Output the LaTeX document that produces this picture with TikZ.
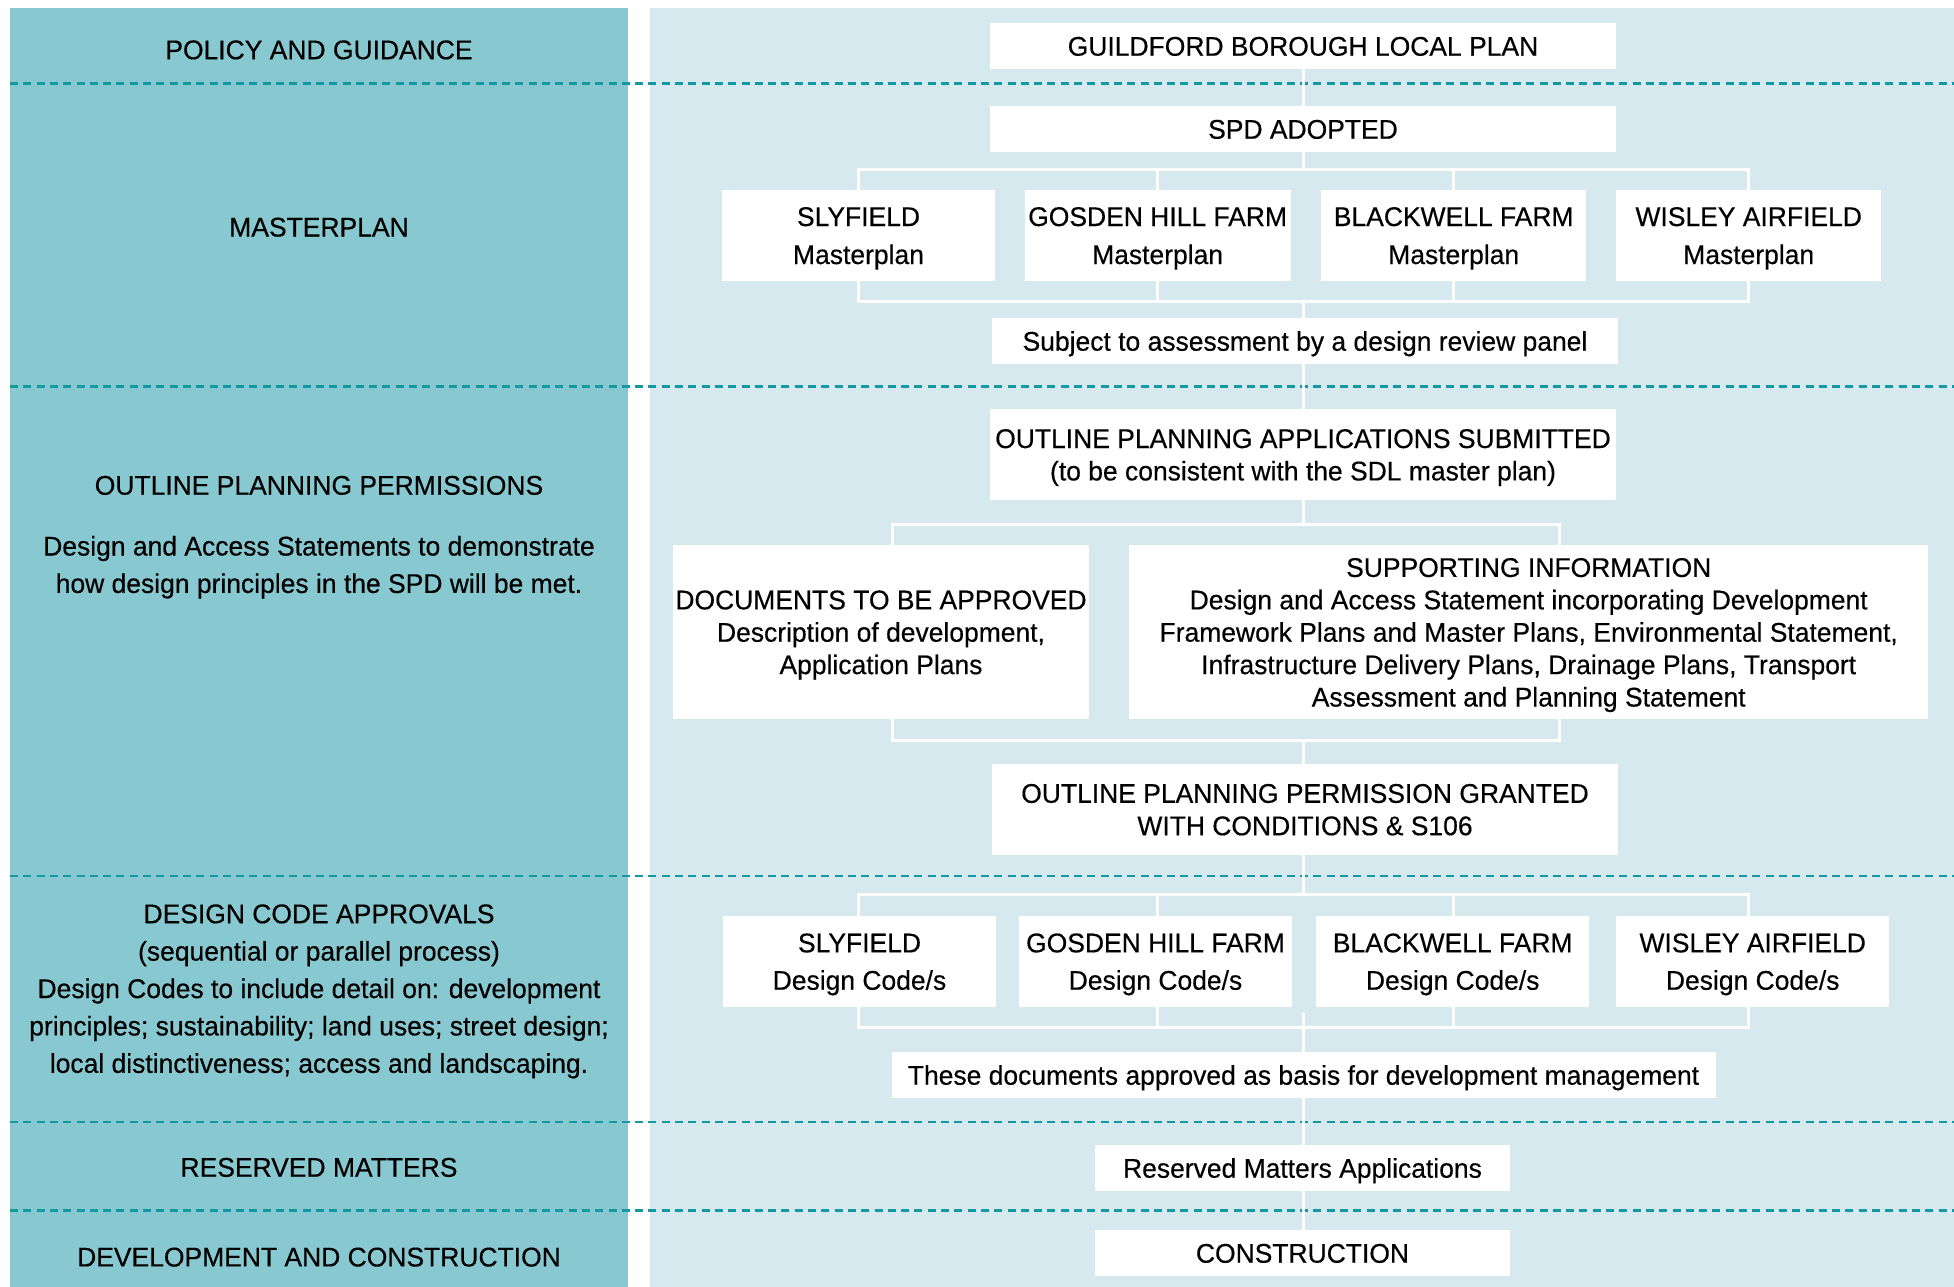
\documentclass[tikz,border=0pt]{standalone}
\usepackage{fontspec}
\setmainfont{Liberation Sans}[FakeStretch=0.98,FakeBold=0.4]
\definecolor{leftbg}{HTML}{88C9D1}
\definecolor{rightbg}{HTML}{D5E9EE}
\definecolor{dashc}{HTML}{1299A2}
\begin{document}
\begin{tikzpicture}[x=1pt,y=-1pt,
  box/.style={fill=white, inner sep=0pt, align=center, font=\fontsize{27}{32.4}\selectfont, text height=19.4pt, text depth=0pt},
  twobox/.style={box, text height=51.8pt},
  mbox/.style={box, font=\fontsize{27}{38}\selectfont, text height=57.4pt, minimum height=90.7pt},
  dbox/.style={box, font=\fontsize{27}{37.4}\selectfont, text height=56.8pt, minimum height=90.7pt},
  lbl/.style={inner sep=0pt, align=center, font=\fontsize{27}{37.4}\selectfont, text height=19.4pt, text depth=0pt},
  conn/.style={draw=white, line width=3pt, line cap=rect},
  sep/.style={draw=dashc, line width=2.9pt, dash pattern=on 8pt off 5.3pt}]
\fill[white] (0,0) rectangle (1954,1287);
\useasboundingbox (0,0) rectangle (1954,1287);
\fill[leftbg] (10,8) rectangle (628,1287);
\fill[rightbg] (650,8) rectangle (1954,1287);
\foreach \yy in {83.7,386.5,876,1122,1210.7} \draw[sep] (10,\yy) -- (1954,\yy);

% left labels
\node[lbl] (l1) at (319,49.5) {POLICY AND GUIDANCE};
\node[lbl] (l2) at (319,226.8) {MASTERPLAN};
\node[lbl] (l3) at (319,485) {OUTLINE PLANNING PERMISSIONS};
\node[lbl, text height=56.8pt] (l3b) at (319,564.5) {Design and Access Statements to demonstrate\\how design principles in the SPD will be met.};
\node[lbl, text height=169pt] (l4) at (319,988.3) {DESIGN CODE APPROVALS\\(sequential or parallel process)\\Design Codes to include detail on: development\\principles; sustainability; land uses; street design;\\local distinctiveness; access and landscaping.};
\node[lbl] (l5) at (319,1167) {RESERVED MATTERS};
\node[lbl] (l6) at (319,1256.7) {DEVELOPMENT AND CONSTRUCTION};

% boxes
\node[box, minimum width=626.5pt, minimum height=46pt] (glp) at (1303,46) {GUILDFORD BOROUGH LOCAL PLAN};
\node[box, minimum width=626.5pt, minimum height=46pt] (spd) at (1303,129) {SPD ADOPTED};
\node[mbox, minimum width=273pt] (m1) at (858.5,235.3) {SLYFIELD\\Masterplan};
\node[mbox, minimum width=265.8pt] (m2) at (1157.6,235.3) {GOSDEN HILL FARM\\Masterplan};
\node[mbox, minimum width=264.5pt] (m3) at (1453.7,235.3) {BLACKWELL FARM\\Masterplan};
\node[mbox, minimum width=264.5pt] (m4) at (1748.7,235.3) {WISLEY AIRFIELD\\Masterplan};
\node[box, minimum width=626pt, minimum height=46pt] (subj) at (1305,341) {Subject to assessment by a design review panel};
\node[twobox, minimum width=626.5pt, minimum height=91pt] (oapp) at (1303,454.5) {OUTLINE PLANNING APPLICATIONS SUBMITTED\\(to be consistent with the SDL master plan)};
\node[box, text height=84.2pt, minimum width=416pt, minimum height=174pt] (docs) at (881,632) {DOCUMENTS TO BE APPROVED\\Description of development,\\Application Plans};
\node[box, text height=149pt, minimum width=798.5pt, minimum height=174pt] (supp) at (1528.7,632) {SUPPORTING INFORMATION\\Design and Access Statement incorporating Development\\Framework Plans and Master Plans, Environmental Statement,\\Infrastructure Delivery Plans, Drainage Plans, Transport\\Assessment and Planning Statement};
\node[twobox, minimum width=626pt, minimum height=91pt] (grant) at (1305,809.3) {OUTLINE PLANNING PERMISSION GRANTED\\WITH CONDITIONS \& S106};
\node[dbox, minimum width=273pt] (d1) at (859.5,961.3) {SLYFIELD\\Design Code/s};
\node[dbox, minimum width=273pt] (d2) at (1155.5,961.3) {GOSDEN HILL FARM\\Design Code/s};
\node[dbox, minimum width=272.5pt] (d3) at (1452.7,961.3) {BLACKWELL FARM\\Design Code/s};
\node[dbox, minimum width=272.5pt] (d4) at (1752.7,961.3) {WISLEY AIRFIELD\\Design Code/s};
\node[box, minimum width=824pt, minimum height=46pt] (basis) at (1303.5,1075) {These documents approved as basis for development management};
\node[box, minimum width=415pt, minimum height=46pt] (rm) at (1302.5,1168) {Reserved Matters Applications};
\node[box, minimum width=415pt, minimum height=46pt] (cons) at (1302.5,1253) {CONSTRUCTION};

% bus coordinates
\coordinate (cx) at (1303,0);
\coordinate (b1) at (0,169);
\coordinate (b2) at (0,301.7);
\coordinate (b3) at (0,524);
\coordinate (b4) at (0,740);
\coordinate (b5) at (0,894.3);
\coordinate (b6) at (0,1027.5);
\coordinate (xd) at (892,0);
\coordinate (xs) at (1559.5,0);
\coordinate (stub) at (1303,1014);

% connectors
\draw[conn] (glp.south -| cx) -- (spd.north -| cx);
\draw[conn] (spd.south -| cx) -- (cx |- b1);
\draw[conn] (m1.north) |- (m4.north |- b1) -- (m4.north);
\draw[conn] (m2.north) -- (m2.north |- b1);
\draw[conn] (m3.north) -- (m3.north |- b1);
\draw[conn] (m1.south) |- (m4.south |- b2) -- (m4.south);
\draw[conn] (m2.south) -- (m2.south |- b2);
\draw[conn] (m3.south) -- (m3.south |- b2);
\draw[conn] (cx |- b2) -- (subj.north -| cx);
\draw[conn] (subj.south -| cx) -- (oapp.north -| cx);
\draw[conn] (oapp.south -| cx) -- (cx |- b3);
\draw[conn] (docs.north -| xd) |- (xs |- b3) -- (supp.north -| xs);
\draw[conn] (docs.south -| xd) |- (xs |- b4) -- (supp.south -| xs);
\draw[conn] (cx |- b4) -- (grant.north -| cx);
\draw[conn] (grant.south -| cx) -- (cx |- b5);
\draw[conn] (d1.north -| m1.north) |- (m4.north |- b5) -- (d4.north -| m4.north);
\draw[conn] (d2.north -| m2.north) -- (m2.north |- b5);
\draw[conn] (d3.north -| m3.north) -- (m3.north |- b5);
\draw[conn] (d1.south -| m1.south) |- (m4.south |- b6) -- (d4.south -| m4.south);
\draw[conn] (d2.south -| m2.south) -- (m2.south |- b6);
\draw[conn] (d3.south -| m3.south) -- (m3.south |- b6);
\draw[conn] (stub) -- (basis.north -| cx);
\draw[conn] (basis.south -| cx) -- (rm.north -| cx);
\draw[conn] (rm.south -| cx) -- (cons.north -| cx);
\end{tikzpicture}
\end{document}
